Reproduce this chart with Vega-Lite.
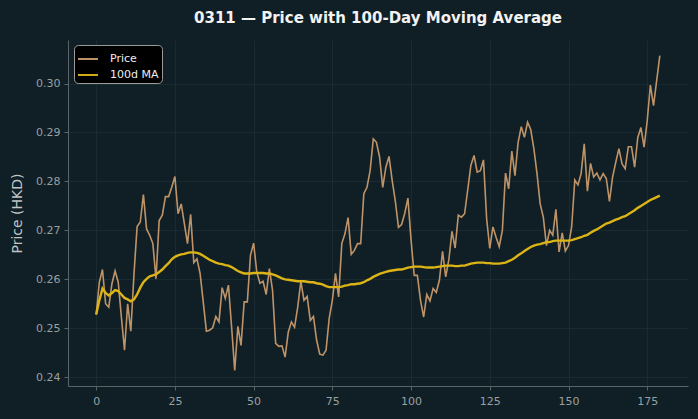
{
"$schema": "https://vega.github.io/schema/vega-lite/v6.json",
"width": 620, "height": 346,
"autosize": {"type": "none"},
"padding": {"left": 68, "top": 40, "right": 10, "bottom": 33},
"background": "#0f1f25",
"title": {"text": "0311 — Price with 100-Day Moving Average", "color": "#f2f2f2", "fontSize": 15, "font": "DejaVu Sans", "fontWeight": "bold", "anchor": "middle", "offset": 14},
"config": {
  "view": {"stroke": null, "fill": "#0f1f25"},
  "font": "DejaVu Sans",
  "axis": {"domainColor": "#5a6468", "tickColor": "#5a6468", "tickSize": 4, "labelColor": "#9aa0a2", "labelFontSize": 11, "labelFont": "DejaVu Sans", "gridColor": "#1c2d33", "gridWidth": 0.8, "titleColor": "#c0c4c6", "titleFont": "DejaVu Sans", "titleFontSize": 14, "titleFontWeight": "normal"},
  "legend": {"orient": "none", "legendX": 6, "legendY": 5, "fillColor": "#000000", "strokeColor": "#9a9a9a", "cornerRadius": 4, "padding": 3, "labelColor": "#eeeeee", "labelFontSize": 11, "labelFont": "DejaVu Sans", "symbolType": "stroke", "symbolSize": 400, "symbolStrokeWidth": 2, "rowPadding": -5, "labelOffset": 11}
},
"data": {"values": [
{"day":0,"price":0.2528,"ma":0.2528},{"day":1,"price":0.2594,"ma":0.2557},{"day":2,"price":0.2620,"ma":0.2581},{"day":3,"price":0.2550,"ma":0.2572},{"day":4,"price":0.2543,"ma":0.2567},{"day":5,"price":0.2591,"ma":0.2572},{"day":6,"price":0.2617,"ma":0.2578},{"day":7,"price":0.2594,"ma":0.2576},{"day":8,"price":0.2523,"ma":0.2569},{"day":9,"price":0.2455,"ma":0.2562},
{"day":10,"price":0.2550,"ma":0.2559},{"day":11,"price":0.2494,"ma":0.2555},{"day":12,"price":0.2610,"ma":0.2559},{"day":13,"price":0.2708,"ma":0.2569},{"day":14,"price":0.2717,"ma":0.2583},{"day":15,"price":0.2773,"ma":0.2594},{"day":16,"price":0.2703,"ma":0.2601},{"day":17,"price":0.2690,"ma":0.2606},{"day":18,"price":0.2673,"ma":0.2608},{"day":19,"price":0.2601,"ma":0.2610},
{"day":20,"price":0.2720,"ma":0.2615},{"day":21,"price":0.2731,"ma":0.2620},{"day":22,"price":0.2769,"ma":0.2627},{"day":23,"price":0.2769,"ma":0.2633},{"day":24,"price":0.2788,"ma":0.2641},{"day":25,"price":0.2810,"ma":0.2646},{"day":26,"price":0.2734,"ma":0.2649},{"day":27,"price":0.2754,"ma":0.2651},{"day":28,"price":0.2714,"ma":0.2652},{"day":29,"price":0.2673,"ma":0.2654},
{"day":30,"price":0.2733,"ma":0.2655},{"day":31,"price":0.2634,"ma":0.2655},{"day":32,"price":0.2642,"ma":0.2654},{"day":33,"price":0.2612,"ma":0.2652},{"day":34,"price":0.2554,"ma":0.2648},{"day":35,"price":0.2494,"ma":0.2644},{"day":36,"price":0.2496,"ma":0.2640},{"day":37,"price":0.2501,"ma":0.2637},{"day":38,"price":0.2524,"ma":0.2634},{"day":39,"price":0.2513,"ma":0.2632},
{"day":40,"price":0.2583,"ma":0.2631},{"day":41,"price":0.2561,"ma":0.2629},{"day":42,"price":0.2588,"ma":0.2628},{"day":43,"price":0.2503,"ma":0.2625},{"day":44,"price":0.2414,"ma":0.2621},{"day":45,"price":0.2504,"ma":0.2617},{"day":46,"price":0.2465,"ma":0.2614},{"day":47,"price":0.2554,"ma":0.2612},{"day":48,"price":0.2554,"ma":0.2612},{"day":49,"price":0.2649,"ma":0.2612},
{"day":50,"price":0.2674,"ma":0.2613},{"day":51,"price":0.2615,"ma":0.2613},{"day":52,"price":0.2592,"ma":0.2613},{"day":53,"price":0.2596,"ma":0.2613},{"day":54,"price":0.2569,"ma":0.2612},{"day":55,"price":0.2622,"ma":0.2612},{"day":56,"price":0.2578,"ma":0.2610},{"day":57,"price":0.2469,"ma":0.2608},{"day":58,"price":0.2463,"ma":0.2605},{"day":59,"price":0.2464,"ma":0.2602},
{"day":60,"price":0.2441,"ma":0.2600},{"day":61,"price":0.2492,"ma":0.2599},{"day":62,"price":0.2513,"ma":0.2598},{"day":63,"price":0.2502,"ma":0.2597},{"day":64,"price":0.2543,"ma":0.2596},{"day":65,"price":0.2596,"ma":0.2596},{"day":66,"price":0.2557,"ma":0.2596},{"day":67,"price":0.2565,"ma":0.2595},{"day":68,"price":0.2516,"ma":0.2594},{"day":69,"price":0.2524,"ma":0.2594},
{"day":70,"price":0.2476,"ma":0.2592},{"day":71,"price":0.2447,"ma":0.2591},{"day":72,"price":0.2445,"ma":0.2589},{"day":73,"price":0.2455,"ma":0.2586},{"day":74,"price":0.2520,"ma":0.2584},{"day":75,"price":0.2557,"ma":0.2584},{"day":76,"price":0.2612,"ma":0.2584},{"day":77,"price":0.2564,"ma":0.2584},{"day":78,"price":0.2673,"ma":0.2585},{"day":79,"price":0.2693,"ma":0.2587},
{"day":80,"price":0.2726,"ma":0.2588},{"day":81,"price":0.2651,"ma":0.2590},{"day":82,"price":0.2659,"ma":0.2590},{"day":83,"price":0.2673,"ma":0.2591},{"day":84,"price":0.2673,"ma":0.2592},{"day":85,"price":0.2775,"ma":0.2594},{"day":86,"price":0.2788,"ma":0.2598},{"day":87,"price":0.2822,"ma":0.2601},{"day":88,"price":0.2887,"ma":0.2605},{"day":89,"price":0.2880,"ma":0.2608},
{"day":90,"price":0.2850,"ma":0.2611},{"day":91,"price":0.2788,"ma":0.2613},{"day":92,"price":0.2829,"ma":0.2615},{"day":93,"price":0.2851,"ma":0.2617},{"day":94,"price":0.2802,"ma":0.2618},{"day":95,"price":0.2760,"ma":0.2619},{"day":96,"price":0.2706,"ma":0.2620},{"day":97,"price":0.2712,"ma":0.2620},{"day":98,"price":0.2735,"ma":0.2622},{"day":99,"price":0.2766,"ma":0.2624},
{"day":100,"price":0.2680,"ma":0.2625},{"day":101,"price":0.2608,"ma":0.2626},{"day":102,"price":0.2608,"ma":0.2626},{"day":103,"price":0.2557,"ma":0.2626},{"day":104,"price":0.2523,"ma":0.2625},{"day":105,"price":0.2569,"ma":0.2624},{"day":106,"price":0.2556,"ma":0.2624},{"day":107,"price":0.2581,"ma":0.2624},{"day":108,"price":0.2573,"ma":0.2625},{"day":109,"price":0.2598,"ma":0.2626},
{"day":110,"price":0.2657,"ma":0.2627},{"day":111,"price":0.2605,"ma":0.2628},{"day":112,"price":0.2640,"ma":0.2628},{"day":113,"price":0.2698,"ma":0.2628},{"day":114,"price":0.2664,"ma":0.2627},{"day":115,"price":0.2731,"ma":0.2627},{"day":116,"price":0.2727,"ma":0.2628},{"day":117,"price":0.2734,"ma":0.2628},{"day":118,"price":0.2783,"ma":0.2630},{"day":119,"price":0.2833,"ma":0.2632},
{"day":120,"price":0.2853,"ma":0.2633},{"day":121,"price":0.2819,"ma":0.2634},{"day":122,"price":0.2822,"ma":0.2634},{"day":123,"price":0.2844,"ma":0.2634},{"day":124,"price":0.2724,"ma":0.2633},{"day":125,"price":0.2663,"ma":0.2633},{"day":126,"price":0.2707,"ma":0.2632},{"day":127,"price":0.2686,"ma":0.2632},{"day":128,"price":0.2667,"ma":0.2632},{"day":129,"price":0.2700,"ma":0.2633},
{"day":130,"price":0.2817,"ma":0.2634},{"day":131,"price":0.2785,"ma":0.2637},{"day":132,"price":0.2862,"ma":0.2640},{"day":133,"price":0.2812,"ma":0.2644},{"day":134,"price":0.2880,"ma":0.2649},{"day":135,"price":0.2912,"ma":0.2653},{"day":136,"price":0.2890,"ma":0.2658},{"day":137,"price":0.2921,"ma":0.2662},{"day":138,"price":0.2906,"ma":0.2666},{"day":139,"price":0.2867,"ma":0.2669},
{"day":140,"price":0.2816,"ma":0.2671},{"day":141,"price":0.2754,"ma":0.2672},{"day":142,"price":0.2727,"ma":0.2674},{"day":143,"price":0.2669,"ma":0.2676},{"day":144,"price":0.2700,"ma":0.2676},{"day":145,"price":0.2690,"ma":0.2678},{"day":146,"price":0.2743,"ma":0.2679},{"day":147,"price":0.2656,"ma":0.2679},{"day":148,"price":0.2695,"ma":0.2679},{"day":149,"price":0.2658,"ma":0.2679},
{"day":150,"price":0.2669,"ma":0.2679},{"day":151,"price":0.2707,"ma":0.2680},{"day":152,"price":0.2803,"ma":0.2682},{"day":153,"price":0.2793,"ma":0.2684},{"day":154,"price":0.2816,"ma":0.2686},{"day":155,"price":0.2877,"ma":0.2689},{"day":156,"price":0.2780,"ma":0.2691},{"day":157,"price":0.2837,"ma":0.2695},{"day":158,"price":0.2809,"ma":0.2699},{"day":159,"price":0.2817,"ma":0.2702},
{"day":160,"price":0.2803,"ma":0.2706},{"day":161,"price":0.2816,"ma":0.2710},{"day":162,"price":0.2806,"ma":0.2714},{"day":163,"price":0.2759,"ma":0.2716},{"day":164,"price":0.2809,"ma":0.2719},{"day":165,"price":0.2839,"ma":0.2722},{"day":166,"price":0.2867,"ma":0.2724},{"day":167,"price":0.2836,"ma":0.2727},{"day":168,"price":0.2826,"ma":0.2729},{"day":169,"price":0.2871,"ma":0.2733},
{"day":170,"price":0.2871,"ma":0.2737},{"day":171,"price":0.2829,"ma":0.2741},{"day":172,"price":0.2890,"ma":0.2746},{"day":173,"price":0.2910,"ma":0.2750},{"day":174,"price":0.2870,"ma":0.2754},{"day":175,"price":0.2924,"ma":0.2758},{"day":176,"price":0.2997,"ma":0.2762},{"day":177,"price":0.2955,"ma":0.2765},{"day":178,"price":0.3006,"ma":0.2768},{"day":179,"price":0.3057,"ma":0.2771}
]},
"encoding": {
  "x": {"field": "day", "type": "quantitative", "title": null,
        "scale": {"domain": [-8.95, 187.95], "nice": false, "zero": false},
        "axis": {"values": [0, 25, 50, 75, 100, 125, 150, 175], "format": "d", "grid": true, "labelPadding": 5}}
},
"layer": [
  {"mark": {"type": "line", "strokeWidth": 1.6, "opacity": 0.95},
   "encoding": {
     "y": {"field": "price", "type": "quantitative", "title": "Price (HKD)",
           "scale": {"domain": [0.2382, 0.3089], "nice": false, "zero": false},
           "axis": {"values": [0.24, 0.25, 0.26, 0.27, 0.28, 0.29, 0.30], "format": ".2f", "grid": true, "titlePadding": 11, "labelPadding": 4}},
     "color": {"datum": "Price", "type": "nominal",
               "scale": {"domain": ["Price", "100d MA"], "range": ["#c99a6c", "#dcb416"]},
               "legend": {"title": null}}
   }},
  {"mark": {"type": "line", "strokeWidth": 2.4},
   "encoding": {
     "y": {"field": "ma", "type": "quantitative"},
     "color": {"datum": "100d MA", "type": "nominal"}
   }}
]
}
